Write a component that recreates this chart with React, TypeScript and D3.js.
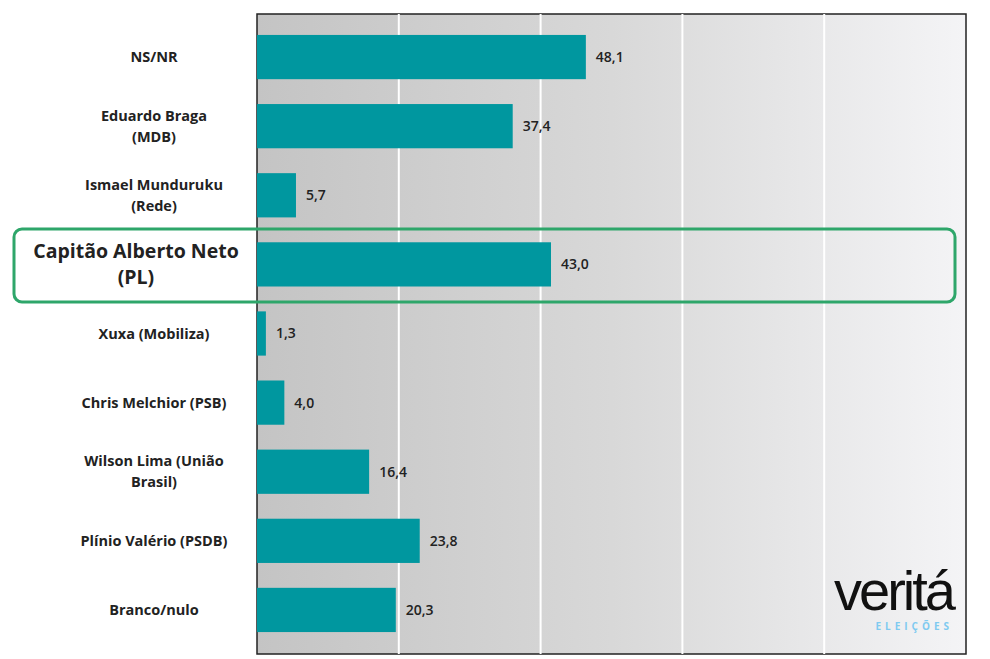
import React from "react";
import * as d3 from "d3";

const categories = [
  ["NS/NR"],
  ["Eduardo Braga", "(MDB)"],
  ["Ismael Munduruku", "(Rede)"],
  ["Capitão Alberto Neto", "(PL)"],
  ["Xuxa (Mobiliza)"],
  ["Chris Melchior (PSB)"],
  ["Wilson Lima (União", "Brasil)"],
  ["Plínio Valério (PSDB)"],
  ["Branco/nulo"],
];
const values = [48.1, 37.4, 5.7, 43.0, 1.3, 4.0, 16.4, 23.8, 20.3];
const highlightIndex = 3;

const W = 990;
const H = 659;
const left = 257;
const right = 966;
const top = 14;
const bottom = 654;

export default function App() {
  const x = d3.scaleLinear().domain([0, 103.7]).range([left, right]);
  const y = d3
    .scaleBand<number>()
    .domain(d3.range(values.length))
    .range([22.5, 644.5])
    .paddingInner(0.36)
    .paddingOuter(0.18);
  const grid = d3.range(1, 5).map((i) => left + ((right - left) * i) / 5);
  const fmt = (v: number) => v.toFixed(1).replace(".", ",");

  return (
    <svg width={W} height={H} style={{ position: "absolute", left: 0, top: 0, fontFamily: "'Open Sans', sans-serif" }}>
      <defs>
        <linearGradient id="bg" x1="0" x2="1" y1="0" y2="0">
          <stop offset="0" stopColor="#c4c4c4" />
          <stop offset="0.5" stopColor="#d8d8d8" />
          <stop offset="1" stopColor="#f4f4f6" />
        </linearGradient>
      </defs>
      <rect width={W} height={H} fill="#fff" />
      <rect x={left} y={top} width={right - left} height={bottom - top} fill="url(#bg)" stroke="#222" strokeWidth={1.5} />
      {grid.map((g) => (
        <line key={g} x1={g} x2={g} y1={top} y2={bottom} stroke="#fff" strokeWidth={2} />
      ))}
      {values.map((v, i) => {
        const y0 = y(i)!;
        const cy = y0 + y.bandwidth() / 2;
        const hl = i === highlightIndex;
        const lines = categories[i];
        const fs = hl ? 19.5 : 14.5;
        const lh = hl ? 26 : 21;
        return (
          <g key={i}>
            <rect x={x(0)} y={y0} width={x(v) - x(0)} height={y.bandwidth()} fill="#00979f" />
            <text x={x(v) + 10} y={cy} dy="0.35em" fontSize={14} fontWeight={600} fill="#222">
              {fmt(v)}
            </text>
            {lines.map((l, j) => (
              <text
                key={j}
                x={hl ? 136 : 154}
                y={cy + (j - (lines.length - 1) / 2) * lh}
                dy="0.35em"
                textAnchor="middle"
                fontSize={fs}
                fontWeight={700}
                fill="#222"
              >
                {l}
              </text>
            ))}
          </g>
        );
      })}
      <rect x={14} y={229} width={941} height={73} rx={8} fill="none" stroke="#2ea66a" strokeWidth={3} />
      <text x={953} y={610} textAnchor="end" fontSize={56} fontFamily="'Liberation Sans', sans-serif" letterSpacing={-3} fill="#111">
        veritá
      </text>
      <text x={953} y={630} textAnchor="end" fontSize={10} fontWeight={700} letterSpacing={4} fill="#7fcaf0">
        ELEIÇÕES
      </text>
    </svg>
  );
}
